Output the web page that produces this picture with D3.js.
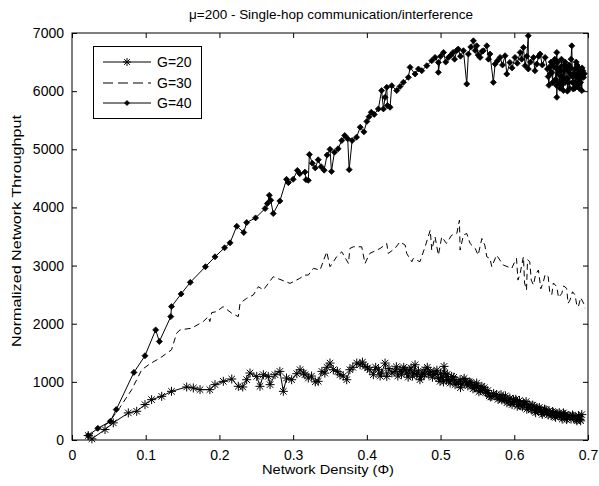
<!DOCTYPE html>
<html><head><meta charset="utf-8">
<script src="https://cdn.jsdelivr.net/npm/d3@7"></script>
<style>body{margin:0;background:#fff}svg text{font-family:"Liberation Sans",Arial,sans-serif;font-size:13px;fill:#000}</style>
</head><body><svg id="c" width="599" height="486"></svg>
<script>
const xTicks=[0,0.1,0.2,0.3,0.4,0.5,0.6,0.7];
const yTicks=[0,1000,2000,3000,4000,5000,6000,7000];
const seriesNames=["G=20","G=30","G=40"];
const g20=[[0.022,77],[0.027,20],[0.0448,180],[0.056,295],[0.0764,466],[0.0878,494],[0.099,609],[0.108,694],[0.1217,751],[0.135,837],[0.1556,912],[0.1646,895],[0.1737,866],[0.187,866],[0.194,952],[0.2053,1009],[0.2167,1049],[0.2256,923],[0.2316,912],[0.237,1037],[0.2415,1152],[0.2506,1094],[0.255,923],[0.2596,1123],[0.2663,1094],[0.2687,952],[0.2754,1123],[0.282,1180],[0.2867,837],[0.291,1066],[0.298,1037],[0.305,1140],[0.3094,1209],[0.314,1152],[0.316,1123],[0.3206,1066],[0.325,1100],[0.33,1000],[0.334,1009],[0.339,1180],[0.343,1150],[0.346,1250],[0.35,1323],[0.3545,1209],[0.36,1180],[0.3636,1123],[0.368,1100],[0.3727,1037],[0.377,1209],[0.381,1250],[0.3863,1323],[0.3908,1294],[0.394,1340],[0.3976,1266],[0.401,1240],[0.404,1209],[0.4088,1123],[0.412,1250],[0.4156,1209],[0.418,1100],[0.42,1152],[0.4247,1323],[0.427,1094],[0.43,1230],[0.434,1152],[0.438,1180],[0.44,1260],[0.442,1100],[0.445,1209],[0.447,1130],[0.45,1250],[0.452,1210],[0.454,1152],[0.456,1080],[0.458,1200],[0.46,1240],[0.462,1100],[0.464,1150],[0.4654,1294],[0.4677,1123],[0.47,1190],[0.472,1037],[0.474,1090],[0.476,1150],[0.478,1130],[0.479,1209],[0.482,1250],[0.484,1120],[0.486,1180],[0.489,1080],[0.491,1170],[0.4925,1123],[0.495,1200],[0.497,1060],[0.4993,1009],[0.5,1150],[0.502,1080],[0.504,1000],[0.5047,1266],[0.506,1150],[0.508,1037],[0.509,1130],[0.511,1020],[0.513,980],[0.515,1094],[0.517,1040],[0.518,1080],[0.5197,952],[0.522,1000],[0.524,980],[0.5265,1037],[0.527,900],[0.529,960],[0.532,1060],[0.534,1010],[0.5355,980],[0.537,930],[0.539,1000],[0.541,990],[0.5423,952],[0.544,880],[0.546,900],[0.548,940],[0.549,980],[0.551,895],[0.552,830],[0.554,850],[0.556,923],[0.557,870],[0.559,900],[0.561,820],[0.5627,809],[0.564,850],[0.566,760],[0.568,740],[0.5695,751],[0.572,800],[0.574,760],[0.576,780],[0.578,700],[0.58,720],[0.582,780],[0.583,690],[0.585,723],[0.587,700],[0.588,760],[0.59,640],[0.592,666],[0.594,720],[0.595,640],[0.597,610],[0.599,694],[0.6,660],[0.602,700],[0.604,580],[0.6056,609],[0.607,680],[0.609,590],[0.611,570],[0.6124,637],[0.614,620],[0.616,660],[0.617,530],[0.619,560],[0.62,610],[0.6215,552],[0.623,520],[0.625,600],[0.627,580],[0.628,500],[0.629,470],[0.6305,523],[0.632,540],[0.634,560],[0.636,500],[0.637,470],[0.638,440],[0.6395,494],[0.641,530],[0.643,520],[0.644,460],[0.646,430],[0.647,500],[0.6486,466],[0.65,420],[0.652,490],[0.653,470],[0.655,410],[0.656,390],[0.6577,437],[0.659,450],[0.661,470],[0.662,420],[0.664,400],[0.665,360],[0.6667,466],[0.668,430],[0.669,440],[0.671,350],[0.672,380],[0.674,420],[0.6757,409],[0.677,360],[0.679,430],[0.68,410],[0.6825,380],[0.684,350],[0.685,330],[0.687,420],[0.688,400],[0.689,352],[0.69,330],[0.6916,437]];
const g30=[[0.022,60],[0.035,180],[0.05,300],[0.065,560],[0.081,866],[0.0946,1209],[0.107,1320],[0.1194,1409],[0.135,1551],[0.142,1838],[0.1465,1894],[0.1624,1923],[0.178,2037],[0.185,2122],[0.187,2037],[0.1895,2191],[0.196,2208],[0.205,2294],[0.2167,2180],[0.2256,2122],[0.228,2352],[0.237,2437],[0.246,2494],[0.2528,2637],[0.2596,2580],[0.273,2808],[0.2958,2694],[0.309,2780],[0.316,2837],[0.3206,2837],[0.3275,2952],[0.3365,2923],[0.3456,3237],[0.35,2980],[0.359,3151],[0.366,3237],[0.375,3037],[0.377,3294],[0.3817,3323],[0.393,3323],[0.3975,3037],[0.404,3209],[0.418,3294],[0.427,3380],[0.429,3209],[0.438,3294],[0.445,3409],[0.452,3352],[0.454,3209],[0.461,3066],[0.463,3123],[0.472,3066],[0.479,3323],[0.486,3609],[0.488,3266],[0.4925,3494],[0.497,3180],[0.5016,3494],[0.508,3380],[0.515,3523],[0.522,3552],[0.5256,3780],[0.5265,3266],[0.531,3523],[0.5355,3552],[0.54,3380],[0.547,3294],[0.551,3180],[0.556,3466],[0.56,3352],[0.5627,3151],[0.567,3123],[0.5695,2980],[0.576,3180],[0.585,3009],[0.5966,2952],[0.6,3050],[0.603,3123],[0.605,2750],[0.608,2866],[0.61,3000],[0.6124,3151],[0.614,2700],[0.6166,2580],[0.618,3100],[0.621,3066],[0.623,2750],[0.626,2666],[0.629,2850],[0.6327,2923],[0.636,2600],[0.6395,2723],[0.642,2850],[0.646,2809],[0.648,2550],[0.6508,2494],[0.653,2700],[0.6577,2637],[0.66,2450],[0.6645,2523],[0.667,2650],[0.671,2609],[0.673,2350],[0.6757,2409],[0.679,2550],[0.6825,2494],[0.685,2300],[0.687,2294],[0.69,2450],[0.694,2352],[0.696,2266]];
const g40=[[0.022,77],[0.035,200],[0.052,322],[0.06,523],[0.084,1163],[0.099,1449],[0.1135,1894],[0.1185,1694],[0.134,2122],[0.135,2294],[0.148,2512],[0.1605,2712],[0.181,2980],[0.194,3151],[0.207,3306],[0.2144,3391],[0.2235,3677],[0.233,3569],[0.237,3740],[0.249,3820],[0.262,3981],[0.265,4066],[0.2677,4209],[0.2696,4123],[0.273,3895],[0.282,4111],[0.291,4483],[0.2935,4426],[0.3,4483],[0.3057,4637],[0.309,4580],[0.316,4608],[0.3175,4478],[0.3206,4466],[0.322,4911],[0.326,4760],[0.33,4680],[0.334,4820],[0.338,4700],[0.342,4640],[0.346,4900],[0.35,5000],[0.352,4620],[0.356,4950],[0.361,5009],[0.366,5151],[0.37,5237],[0.374,5180],[0.376,4650],[0.38,5150],[0.386,5208],[0.391,5380],[0.396,5300],[0.4,5480],[0.403,5560],[0.406,5637],[0.41,5600],[0.4156,5694],[0.42,6009],[0.4225,5694],[0.4247,5894],[0.427,6066],[0.428,5752],[0.4315,5723],[0.4338,6094],[0.4405,6009],[0.445,6080],[0.4495,6151],[0.4563,6237],[0.4586,6409],[0.4654,6295],[0.47,6381],[0.4745,6352],[0.4813,6438],[0.488,6523],[0.4925,6580],[0.497,6494],[0.497,6323],[0.5,6600],[0.504,6666],[0.507,6500],[0.5106,6580],[0.514,6620],[0.517,6666],[0.519,6550],[0.522,6700],[0.524,6723],[0.527,6600],[0.531,6695],[0.5355,6123],[0.5377,6638],[0.541,6760],[0.5445,6866],[0.547,6700],[0.549,6780],[0.551,6620],[0.5536,6580],[0.556,6680],[0.558,6695],[0.5627,6780],[0.565,6550],[0.567,6638],[0.5716,6151],[0.574,6466],[0.577,6520],[0.5807,6580],[0.584,6450],[0.5875,6609],[0.5898,6295],[0.594,6494],[0.597,6400],[0.601,6580],[0.604,6480],[0.608,6666],[0.61,6550],[0.6124,6752],[0.6147,6438],[0.617,6600],[0.619,6952],[0.619,6381],[0.622,6500],[0.626,6580],[0.628,6350],[0.6305,6466],[0.633,6600],[0.635,6638],[0.638,6450],[0.6418,6580],[0.645,6380],[0.646,6250],[0.647,6100],[0.648,6420],[0.6486,6295],[0.65,6500],[0.651,6320],[0.652,6150],[0.653,6480],[0.654,6420],[0.655,6550],[0.656,6200],[0.657,6100],[0.6577,6666],[0.6577,5894],[0.658,6380],[0.659,6500],[0.66,6300],[0.661,6150],[0.662,6352],[0.662,6050],[0.663,6420],[0.664,6100],[0.664,6550],[0.665,6250],[0.6667,6009],[0.667,6350],[0.667,6200],[0.668,6450],[0.669,6150],[0.669,6500],[0.67,6400],[0.671,6209],[0.672,6220],[0.672,6000],[0.673,6350],[0.674,6450],[0.674,6150],[0.675,6050],[0.676,6300],[0.677,6400],[0.677,6550],[0.678,6780],[0.679,6150],[0.679,6250],[0.68,6037],[0.681,6300],[0.682,6380],[0.682,6050],[0.683,6150],[0.684,6250],[0.684,6500],[0.685,6450],[0.686,6100],[0.686,6300],[0.687,6409],[0.688,6200],[0.688,6050],[0.689,6350],[0.69,6300],[0.69,6150],[0.691,6250],[0.6916,6009],[0.692,6400],[0.693,6350],[0.694,6237],[0.695,6300]];

const svg=d3.select("#c");
const L=72,R=588,T=33,B=440;
const x=d3.scaleLinear().domain([0,0.7]).range([L,R]);
const y=d3.scaleLinear().domain([0,7000]).range([B,T]);
svg.append("g").attr("transform",`translate(0,${B})`).call(d3.axisBottom(x).tickValues(xTicks).tickFormat(d=>d===0?"0":d3.format(".1f")(d)).tickSizeInner(-5).tickSizeOuter(0).tickPadding(10));
svg.append("g").attr("transform",`translate(${L},0)`).call(d3.axisLeft(y).tickValues(yTicks).tickFormat(d3.format("")).tickSizeInner(-5).tickSizeOuter(0).tickPadding(8));
svg.append("g").attr("transform",`translate(0,${T})`).call(d3.axisTop(x).tickValues(xTicks).tickFormat("").tickSizeInner(-5).tickSizeOuter(0));
svg.append("g").attr("transform",`translate(${R},0)`).call(d3.axisRight(y).tickValues(yTicks).tickFormat("").tickSizeInner(-5).tickSizeOuter(0));
svg.selectAll(".domain").remove();
svg.selectAll(".tick line").attr("stroke","#000");
svg.selectAll(".tick text").style("font-size","14px").style("font-family","'Liberation Sans',Arial,sans-serif").attr("fill","#000");
svg.append("rect").attr("x",L).attr("y",T).attr("width",R-L).attr("height",B-T).attr("fill","none").attr("stroke","#000").attr("stroke-width",1);

const line=d3.line().x(d=>x(d[0])).y(d=>y(d[1]));
const plot=svg.append("g");
function star(g,cx,cy,s){
  const r=s/2,rd=r*0.72;
  g.append("path").attr("d",`M${cx-r},${cy}H${cx+r}M${cx},${cy-r}V${cy+r}M${cx-rd},${cy-rd}L${cx+rd},${cy+rd}M${cx-rd},${cy+rd}L${cx+rd},${cy-rd}`).attr("stroke","#000").attr("stroke-width",1).attr("fill","none");
}
function diamond(g,cx,cy,s){
  const r=s/2;
  g.append("path").attr("d",`M${cx},${cy-r}L${cx+r},${cy}L${cx},${cy+r}L${cx-r},${cy}Z`).attr("fill","#000").attr("stroke","#000").attr("stroke-width",0.8);
}
plot.append("path").datum(g20).attr("d",line).attr("fill","none").attr("stroke","#000").attr("stroke-width",1);
const m20=plot.append("g");
g20.forEach(d=>star(m20,x(d[0]),y(d[1]),9));
plot.append("path").datum(g30).attr("d",line).attr("fill","none").attr("stroke","#000").attr("stroke-width",1).attr("stroke-dasharray","6,4");
plot.append("path").datum(g40).attr("d",line).attr("fill","none").attr("stroke","#000").attr("stroke-width",1);
const m40=plot.append("g");
g40.forEach(d=>diamond(m40,x(d[0]),y(d[1]),6));

const lg=svg.append("g");
lg.append("rect").attr("x",93.5).attr("y",46.5).attr("width",108).attr("height",72).attr("fill","#fff").attr("stroke","#000");
const ly=[62,83,103];
seriesNames.forEach((n,i)=>{
  const yy=ly[i];
  const p=lg.append("line").attr("x1",103).attr("x2",151).attr("y1",yy).attr("y2",yy).attr("stroke","#000");
  if(i===1)p.attr("stroke-dasharray","10,5");
  if(i===0)star(lg,127,yy,8);
  if(i===2)diamond(lg,127,yy,5);
  lg.append("text").attr("x",157).attr("y",yy+5).style("font-size","14px").text(n);
});
svg.append("text").attr("x",331).attr("y",19).attr("text-anchor","middle").attr("textLength",284).attr("lengthAdjust","spacingAndGlyphs").style("font-size","13.5px").text("\u03bc=200 -  Single-hop communication/interference");
svg.append("text").attr("x",328).attr("y",474).attr("text-anchor","middle").attr("textLength",132).attr("lengthAdjust","spacingAndGlyphs").style("font-size","13.5px").text("Network Density (\u03a6)");
svg.append("text").attr("transform","translate(21,231) rotate(-90)").attr("text-anchor","middle").attr("textLength",232).attr("lengthAdjust","spacingAndGlyphs").style("font-size","13.5px").text("Normalized Network Throughput");
</script></body></html>
